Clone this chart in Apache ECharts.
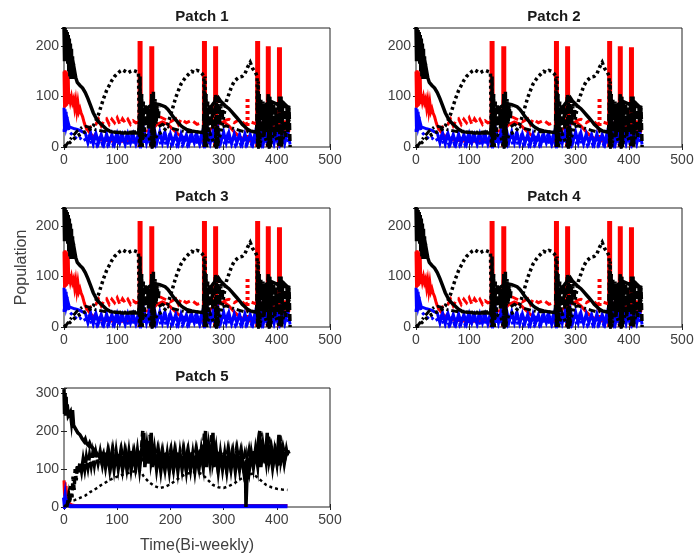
<!DOCTYPE html>
<html><head><meta charset="utf-8">
<script src="https://cdn.jsdelivr.net/npm/echarts@6/dist/echarts.min.js"></script>
<style>html,body{margin:0;padding:0;background:#fff}#c{width:698px;height:558px}</style>
</head><body><div id="c"></div>
<script>
// ---------- tick labels ----------
const xTicks = [0, 100, 200, 300, 400, 500];
const yTicksAB = [0, 100, 200];
const yTicks5 = [0, 100, 200, 300];
const yMaxAB = 236;
const yMax5 = 313;
const patchNames = ['Patch 1', 'Patch 2', 'Patch 3', 'Patch 4', 'Patch 5'];

// ---------- patches 1-4 ----------
const blackSolid = [[0,238],[1,170],[2,236],[3,175],[4,232],[5,170],[6,228],[7,165],[8,222],[9,150],[10,215],[11,140],[12,205],[13,135],[14,195],[15,135],[16,180],[17,135],[18,165],[19,135],[20,150],[22,138],[25,128],[30,122],[35,117],[40,108],[45,96],[50,82],[55,68],[60,58],[65,50],[70,45],[75,40],[80,35],[85,32],[90,30],[100,29],[110,28],[120,28],[130,28],[140,28],[143,30],[150,70],[160,80],[170,86],[180,84],[190,80],[195,75],[200,68],[205,60],[210,54],[215,48],[220,42],[225,38],[230,35],[240,32],[250,30],[260,29],[264,30],[270,70],[280,85],[290,98],[295,90],[300,85],[305,80],[310,76],[315,70],[320,64],[325,58],[330,52],[335,45],[340,40],[345,35],[350,32],[360,30],[364,32],[370,75],[380,85],[390,90],[400,85],[410,90],[420,80],[425,78]];
const blackBurst = [[141,30],[143,110],[144,0],[146,105],[147,0],[149,90],[151,30],[153,85],[155,40],[157,80],[159,35],[161,75],[163,40],[165,105],[166,0],[168,110],[169,0],[171,95],[173,45],[175,85],[177,55],[179,80],[180,'-'],
 [262,30],[264,110],[265,0],[267,105],[268,0],[270,90],[272,30],[274,85],[276,40],[278,80],[280,35],[282,70],[285,105],[286,0],[288,100],[289,0],[291,95],[293,45],[295,85],[297,55],[299,80],[300,'-'],
 [362,30],[364,110],[365,0],[367,105],[368,0],[370,95],[372,30],[374,90],[376,20],[378,85],[380,30],[382,70],[384,105],[385,0],[387,100],[388,0],[390,90],[392,30],[394,85],[396,20],[398,80],[400,30],[402,70],[405,100],[406,0],[408,100],[409,0],[411,90],[413,30],[415,85],[417,20],[419,80],[421,30],[423,78],[425,80],[425,0]];
const blackDotted = [[0,0],[5,3],[10,8],[15,12],[20,18],[25,22],[30,25],[35,28],[40,30],[45,32],[50,36],[55,42],[60,52],[65,65],[70,82],[75,98],[80,112],[85,122],[90,132],[95,140],[100,145],[105,150],[110,153],[115,150],[120,147],[125,150],[130,152],[135,150],[140,148],[142,0],[143,140],[144,0],[150,25],[160,20],[164,0],[165,100],[166,0],[175,25],[185,30],[190,35],[195,45],[200,62],[205,80],[210,98],[215,112],[220,125],[225,133],[230,140],[235,145],[240,150],[245,148],[250,152],[255,150],[260,145],[263,140],[264,0],[265,140],[266,0],[275,25],[285,0],[286,100],[287,0],[295,30],[300,60],[305,90],[310,105],[315,120],[320,130],[325,135],[330,139],[335,140],[340,145],[345,158],[350,168],[355,155],[360,148],[363,140],[364,0],[365,130],[366,0],[375,30],[384,0],[385,100],[386,0],[395,30],[405,0],[406,95],[407,0],[415,30],[425,60]];
const blackLow = [[0,0],[5,5],[10,12],[15,20],[20,26],[25,32],[30,36],[35,40],[40,41],[45,40],[50,38],[55,36],[60,34],[70,32],[80,30],[90,30],[100,29],[110,30],[120,29],[130,30],[143,30],[144,'-'],[178,40],[185,45],[190,42],[200,38],[210,35],[220,32],[230,30],[240,30],[250,30],[262,30],[263,'-'],[298,40],[305,42],[310,40],[320,36],[330,33],[340,30],[350,30],[362,30],[363,'-'],[370,35],[390,35],[410,35],[425,35]];
const redSolid = [[0,150],[1,78],[2,152],[3,80],[4,150],[5,82],[6,148],[7,85],[8,140],[9,85],[10,105],[12,90],[14,100],[16,88],[18,95],[20,78],[22,92],[24,72],[26,88],[28,70],[30,76],[32,68],[35,60],[38,48],[40,42],[45,33],[50,26],[55,21],[60,18],[65,16],[70,14],[80,13],[90,12],[100,11],[110,12],[120,11],[130,12],[143,12],[150,30],[165,35],[175,45],[185,50],[195,45],[205,35],[215,25],[225,18],[235,14],[245,12],[255,12],[264,12],[275,35],[290,45],[300,50],[310,42],[320,30],[330,20],[340,15],[350,12],[364,12],[375,40],[385,45],[395,40],[405,40],[415,35],[425,30]];
const redDash = [[40,35],[50,40],[60,45],[65,55],[70,42],[75,52],[80,56],[85,45],[90,55],[95,48],[100,58],[105,45],[110,56],[115,48],[120,55],[125,45],[130,52],[135,48],[143,50],[144,'-'],[180,60],[190,55],[200,50],[210,56],[215,45],[220,55],[230,48],[240,53],[250,45],[264,50],[265,'-'],[300,52],[310,55],[320,48],[330,55],[340,45],[350,50],[364,45],[375,50],[385,45],[395,50],[405,45],[415,50],[425,40]];
const redDotted = [[345,18],[345,95]];
const redSpikes = [[143,0],[143,210],[144,'-'],[165,0],[165,200],[166,'-'],[264,0],[264,210],[265,'-'],[285,0],[285,200],[286,'-'],[364,0],[364,210],[365,'-'],[384,0],[384,200],[385,'-'],[405,0],[405,198]];
const blueSolid = [[0,78],[1,30],[2,75],[3,32],[4,70],[5,35],[6,60],[7,38],[8,48],[10,40],[15,38],[20,36],[25,35],[30,33],[35,30],[40,28],[45,8],[50,28],[55,6],[60,27],[65,8],[70,25],[75,5],[80,26],[85,8],[90,25],[95,6],[100,26],[105,8],[110,24],[115,5],[120,26],[125,8],[130,25],[135,6],[140,28],[145,5],[150,35],[155,8],[160,32],[165,5],[170,35],[175,10],[180,30],[185,8],[190,28],[195,6],[200,26],[205,8],[210,25],[215,5],[220,26],[225,8],[230,24],[235,6],[240,25],[245,8],[250,24],[255,5],[260,28],[265,5],[270,35],[275,8],[280,32],[285,5],[290,35],[295,10],[300,30],[305,8],[310,28],[315,6],[320,26],[325,8],[330,25],[335,5],[340,26],[345,8],[350,25],[355,5],[360,30],[365,5],[370,38],[375,8],[380,35],[385,5],[390,38],[395,8],[400,35],[405,5],[410,38],[415,8],[420,35],[425,5]];
const blueDotted = [[0,30],[2,60],[4,40],[6,50],[10,30],[15,25],[20,20],[25,15],[30,18],[35,12],[40,15],[47,22],[52,5],[57,20],[62,4],[67,22],[72,6],[77,20],[82,4],[87,22],[92,5],[97,20],[102,4],[107,22],[112,6],[117,20],[122,4],[127,22],[132,5],[137,20],[142,4],[147,30],[152,5],[157,28],[162,4],[167,30],[172,6],[177,25],[182,5],[187,22],[192,4],[197,20],[202,6],[207,22],[212,4],[217,20],[222,5],[227,22],[232,4],[237,20],[242,6],[247,22],[252,4],[257,20],[262,5],[267,30],[272,4],[277,28],[282,6],[287,30],[292,5],[297,25],[302,4],[307,22],[312,6],[317,20],[322,4],[327,22],[332,5],[337,20],[342,4],[347,22],[352,6],[357,20],[362,4],[367,32],[372,5],[377,30],[382,4],[387,32],[392,5],[397,30],[402,4],[407,32],[412,5],[417,30],[422,4]];

// ---------- patch 5 ----------
const black5Solid = [[0,310],[1,245],[2,300],[3,240],[4,290],[5,245],[6,270],[8,240],[10,235],[12,250],[14,225],[16,255],[18,215],[20,220],[22,205],[24,210],[26,195],[28,200],[30,190],[32,195],[34,180],[36,185],[38,172],[40,178],[42,168],[44,172],[46,162],[48,168],[50,160],[52,165],[54,155],[56,160],[58,148],[60,150],[62,140],[64,145],[66,132],[68,138],[70,125],[74,140],[78,105],[82,142],[86,100],[90,140],[94,100],[98,145],[102,102],[106,140],[110,100],[114,142],[118,102],[122,145],[126,100],[130,140],[134,105],[138,148],[142,100],[146,150],[150,195],[152,105],[156,160],[160,115],[164,195],[166,105],[170,150],[174,100],[178,142],[182,95],[186,140],[190,100],[194,140],[198,95],[202,142],[206,100],[210,140],[214,95],[218,142],[222,100],[226,140],[230,95],[234,142],[238,100],[242,140],[246,95],[250,142],[254,105],[258,150],[262,110],[266,200],[268,105],[272,160],[276,115],[280,195],[282,105],[286,150],[290,95],[294,142],[298,100],[302,140],[306,95],[310,142],[314,100],[318,140],[322,95],[326,142],[330,100],[334,140],[338,95],[341,120],[342,0],[344,0],[345,120],[348,95],[352,142],[356,105],[360,150],[364,110],[368,200],[370,105],[374,160],[378,115],[382,195],[384,110],[388,150],[392,105],[396,148],[400,115],[404,190],[406,110],[410,152],[414,115],[418,150],[420,135]];
const black5Dash = [[5,0],[7,12],[9,30],[11,10],[13,55],[15,25],[17,80],[19,45],[21,100],[23,70],[25,112],[27,88],[30,118],[33,95],[36,125],[39,100],[42,130],[45,105],[48,135],[51,110],[54,140],[57,112],[60,142],[64,115],[68,145],[72,112],[76,148],[80,115],[84,145],[88,112],[92,150],[96,115],[100,145],[104,112],[108,148],[112,115],[116,145],[120,112],[124,150],[128,115],[132,145],[136,112],[140,150],[144,120],[148,200],[150,120],[154,165],[158,115],[162,190],[164,120],[168,150],[172,112],[176,148],[180,115],[184,145],[188,112],[192,148],[196,115],[200,145],[204,112],[208,148],[212,115],[216,145],[220,112],[224,150],[228,115],[232,145],[236,112],[240,148],[244,115],[248,150],[252,115],[256,155],[260,120],[264,195],[266,120],[270,160],[274,118],[278,190],[280,120],[284,150],[288,112],[292,148],[296,115],[300,145],[304,112],[308,148],[312,115],[316,145],[320,112],[324,150],[328,115],[332,145],[336,112],[340,140],[344,115],[348,148],[352,115],[356,150],[360,120],[364,160],[366,120],[370,195],[372,125],[376,160],[380,120],[384,190],[386,125],[390,155],[394,120],[398,150],[402,130],[406,188],[408,125],[412,155],[416,130],[420,150],[423,140]];
const black5Dotted = [[0,0],[5,8],[10,15],[20,18],[30,24],[40,30],[50,40],[60,48],[70,58],[80,66],[90,74],[100,80],[110,85],[120,89],[130,93],[140,97],[145,92],[150,80],[160,65],[170,55],[180,50],[190,53],[200,60],[210,70],[220,80],[230,87],[240,91],[250,92],[260,86],[270,72],[280,58],[290,52],[300,50],[310,55],[320,62],[330,72],[340,80],[350,86],[355,88],[360,82],[370,70],[380,58],[390,52],[400,48],[410,46],[420,45]];
const red5 = [[0,70],[1,30],[2,65],[3,25],[4,55],[5,20],[6,30],[8,12],[10,8],[15,5],[20,4],[100,4],[200,4],[300,4],[420,4]];
const blue5 = [[0,25],[1,10],[2,22],[3,8],[5,15],[8,5],[12,2],[100,2],[200,2],[300,2],[420,2]];

// ---------- layout ----------
const grids = [
  {left: 64, top: 28, width: 266, height: 119},
  {left: 416, top: 28, width: 266, height: 119},
  {left: 64, top: 208, width: 266, height: 119},
  {left: 416, top: 208, width: 266, height: 119},
  {left: 64, top: 388, width: 266, height: 119}
];
const titlePos = [[197, 4], [549, 4], [197, 184], [549, 184], [197, 364]];

const tickColor = '#404040';
const options = {animation: false, grid: [], xAxis: [], yAxis: [], series: [], title: []};

grids.forEach((g, i) => {
  options.grid.push(Object.assign({show: true, borderColor: '#222', borderWidth: 1, backgroundColor: '#fff', containLabel: false}, g));
  const yt = i === 4 ? yTicks5 : yTicksAB;
  const ymax = i === 4 ? yMax5 : yMaxAB;
  const xBase = {type: 'value', gridIndex: i, min: xTicks[0], max: xTicks[xTicks.length - 1], interval: xTicks[1] - xTicks[0],
    splitLine: {show: false}, axisLine: {show: false}};
  options.xAxis.push(Object.assign({}, xBase, {position: 'bottom',
    axisTick: {inside: true, length: 3, lineStyle: {color: '#222'}},
    axisLabel: {color: tickColor, fontSize: 14, fontFamily: 'Liberation Sans, Arial', margin: 6},
    name: i === 4 ? 'Time(Bi-weekly)' : '', nameLocation: 'middle', nameGap: 31,
    nameTextStyle: {color: tickColor, fontSize: 16, fontFamily: 'Liberation Sans, Arial'}}));
  options.xAxis.push(Object.assign({}, xBase, {position: 'top',
    axisTick: {inside: true, length: 3, lineStyle: {color: '#222'}}, axisLabel: {show: false}}));
  const yBase = {type: 'value', gridIndex: i, min: yt[0], max: ymax, interval: yt[1] - yt[0],
    splitLine: {show: false}, axisLine: {show: false}};
  options.yAxis.push(Object.assign({}, yBase, {position: 'left',
    axisTick: {inside: true, length: 3, lineStyle: {color: '#222'}},
    axisLabel: {color: tickColor, fontSize: 14, fontFamily: 'Liberation Sans, Arial', margin: 5,
      formatter: v => yt.includes(v) ? String(v) : ''},
    name: i === 2 ? 'Population' : '', nameLocation: 'middle', nameGap: 34,
    nameTextStyle: {color: tickColor, fontSize: 16, fontFamily: 'Liberation Sans, Arial'}}));
  options.yAxis.push(Object.assign({}, yBase, {position: 'right',
    axisTick: {inside: true, length: 3, lineStyle: {color: '#222'}}, axisLabel: {show: false}}));
  options.title.push({text: patchNames[i], left: titlePos[i][0], top: titlePos[i][1], textAlign: 'center',
    textStyle: {fontSize: 15, fontWeight: 'bold', color: '#1a1a1a', fontFamily: 'Liberation Sans, Arial'}});
});

function addLine(gi, data, color, width, dash) {
  options.series.push({type: 'line', xAxisIndex: gi * 2, yAxisIndex: gi * 2, data: data,
    showSymbol: false, symbol: 'none', connectNulls: false, clip: true,
    lineStyle: {color: color, width: width, type: dash || 'solid', cap: 'butt', join: 'miter'}});
}
const DOT = [3, 3], DASH = [7, 4], DASHDOT = [7, 3, 2, 3];
for (let i = 0; i < 4; i++) {
  addLine(i, redSolid, '#ff0000', 3);
  addLine(i, redDash, '#ff0000', 3, DASH);
  addLine(i, redDotted, '#ff0000', 4, DOT);
  addLine(i, redSpikes, '#ff0000', 5);
  addLine(i, blueDotted, '#0000ff', 3, DOT);
  addLine(i, blueSolid, '#0000ff', 3);
  addLine(i, blackLow, '#000000', 3, DASHDOT);
  addLine(i, blackSolid, '#000000', 3.5);
  addLine(i, blackDotted, '#000000', 3.5, DOT);
  addLine(i, blackBurst, '#000000', 3.5, DASH);
}
addLine(4, red5, '#ff0000', 3);
addLine(4, blue5, '#0000ff', 4);
addLine(4, black5Dotted, '#000000', 2.5, DOT);
addLine(4, black5Dash, '#000000', 3.5, DASH);
addLine(4, black5Solid, '#000000', 3.5);

const chart = echarts.init(document.getElementById('c'), null, {renderer: 'canvas'});
chart.setOption(options);
</script></body></html>
